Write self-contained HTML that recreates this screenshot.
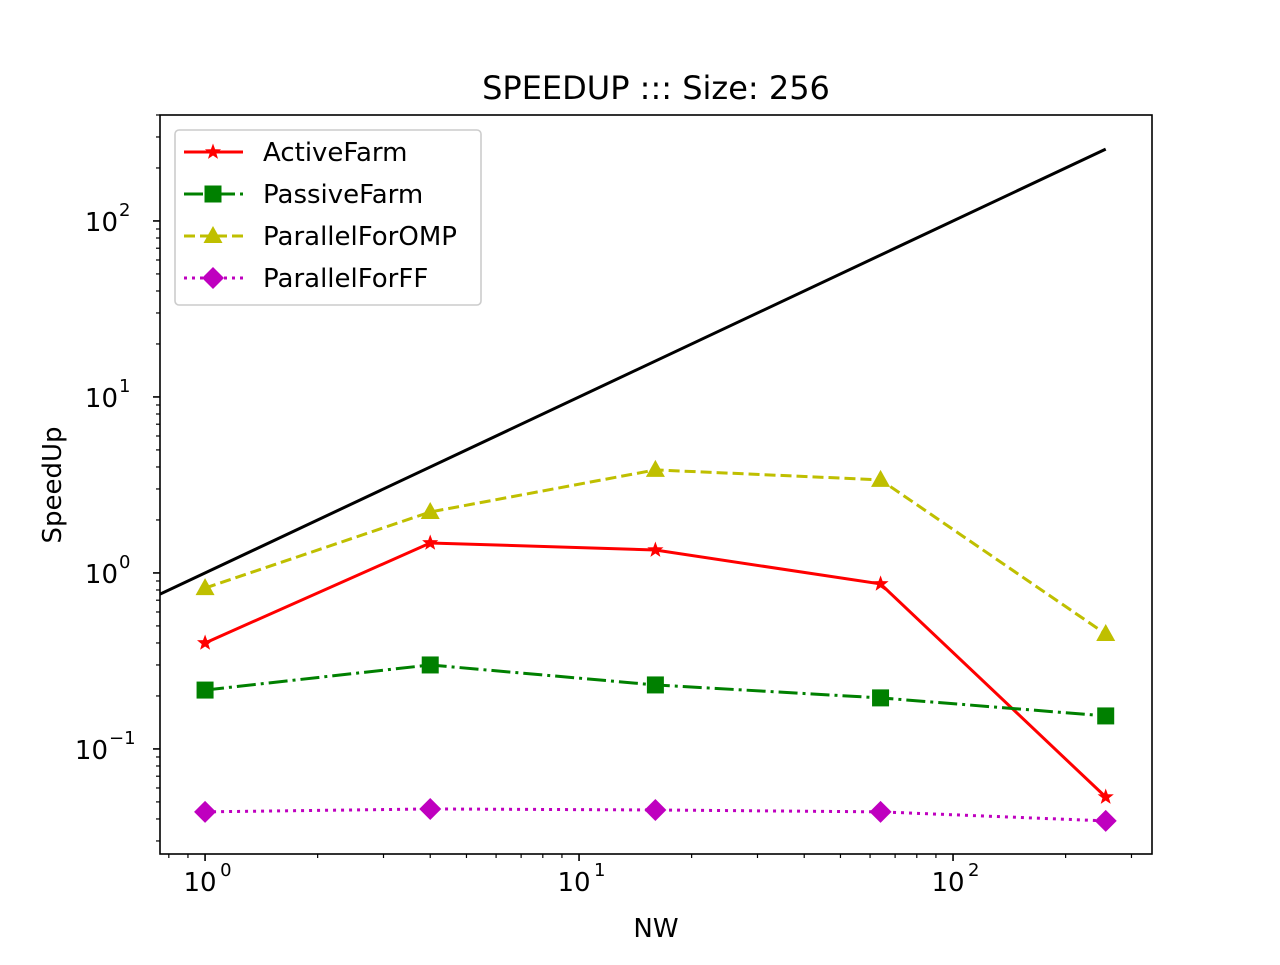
<!DOCTYPE html>
<html><head><meta charset="utf-8"><style>
body{margin:0;background:#fff}
svg text{font-family:"DejaVu Sans","Liberation Sans",sans-serif;fill:#000}
</style></head><body>
<svg id="chart" width="1280" height="960" xmlns="http://www.w3.org/2000/svg">
<rect width="1280" height="960" fill="#fff"/>
<g id="plot"></g>
</svg>
<script>
const nw = [1, 4, 16, 64, 256];
const activeFarm = [0.40, 1.48, 1.35, 0.866, 0.0533];
const passiveFarm = [0.216, 0.30, 0.231, 0.195, 0.154];
const parallelForOMP = [0.82, 2.22, 3.85, 3.38, 0.45];
const parallelForFF = [0.0439, 0.0456, 0.0450, 0.0439, 0.039];
const xTickLabels = ['0', '1', '2'];
const yTickLabels = ['-1', '0', '1', '2'];

const L = 160, R = 1152, T = 115, B = 854;
const xmin = -0.1205, xmax = 2.532, ymin = -1.597, ymax = 2.602;
const sx = v => L + (Math.log10(v) - xmin) / (xmax - xmin) * (R - L);
const sy = v => B - (Math.log10(v) - ymin) / (ymax - ymin) * (B - T);
const NS = 'http://www.w3.org/2000/svg';
const g = document.getElementById('plot');
function mk(tag, attrs, parent) {
  const e = document.createElementNS(NS, tag);
  for (const k in attrs) e.setAttribute(k, attrs[k]);
  (parent || g).appendChild(e);
  return e;
}

// title and axis labels
let t = mk('text', {x: 656, y: 99, 'text-anchor': 'middle', 'font-size': 32});
t.textContent = 'SPEEDUP ::: Size: 256';


t = mk('text', {x: 656, y: 937, 'text-anchor': 'middle', 'font-size': 26});
t.textContent = 'NW';


t = mk('text', {x: 61, y: 485, 'text-anchor': 'middle', 'font-size': 26, transform: 'rotate(-90 61 485)'});
t.textContent = 'SpeedUp';



// x ticks
for (let d = -1; d <= 2; d++) for (let m = 1; m < 10; m++) {
  const v = m * Math.pow(10, d), x = sx(v);
  if (x < L - 0.5 || x > R + 0.5) continue;
  mk('line', {x1: x, x2: x, y1: B, y2: B + (m === 1 ? 7 : 4), stroke: '#000', 'stroke-width': m === 1 ? 1.6 : 1.2});
}
xTickLabels.forEach(e => {
  const x = sx(Math.pow(10, +e));
  const tx = mk('text', {x: x - 5, y: 891, 'text-anchor': 'middle', 'font-size': 26});
  tx.textContent = '10';
  
  
  const s = mk('text', {x: x + 15, y: 876, 'font-size': 18});
  s.textContent = e;
});
// y ticks
for (let d = -2; d <= 2; d++) for (let m = 1; m < 10; m++) {
  const v = m * Math.pow(10, d), y = sy(v);
  if (y < T - 0.5 || y > B + 0.5) continue;
  mk('line', {x1: L, x2: L - (m === 1 ? 7 : 4), y1: y, y2: y, stroke: '#000', 'stroke-width': m === 1 ? 1.6 : 1.2});
}
yTickLabels.forEach(e => {
  const y = sy(Math.pow(10, +e));
  const tx = mk('text', {x: e.length > 1 ? 108 : 118, y: y + 10, 'text-anchor': 'end', 'font-size': 26});
  tx.textContent = '10';
  
  
  const s = mk('text', {x: e.length > 1 ? 109 : 119, y: y - 5, 'font-size': 18});
  s.textContent = e.replace('-', '\u2212');
});

// clip
const defs = mk('defs', {});
const cp = mk('clipPath', {id: 'clip'}, defs);
mk('rect', {x: L, y: T, width: R - L, height: B - T}, cp);
const pg = mk('g', {'clip-path': 'url(#clip)'});

// ideal line
const ideal = mk('line', {x1: sx(Math.pow(10, xmin)), y1: sy(Math.pow(10, xmin)), x2: sx(256), y2: sy(256), stroke: '#000', 'stroke-width': 3}, pg);



function marker(type, x, y, c, parent) {
  if (type === 'star') {
    let p = [];
    for (let i = 0; i < 10; i++) {
      const r = i % 2 ? 3.5 : 8.5, a = -Math.PI / 2 + i * Math.PI / 5;
      p.push((x + r * Math.cos(a)).toFixed(1) + ',' + (y + r * Math.sin(a)).toFixed(1));
    }
    return mk('polygon', {points: p.join(' '), fill: c}, parent);
  }
  if (type === 'square') return mk('rect', {x: x - 8.5, y: y - 8.5, width: 17, height: 17, fill: c}, parent);
  if (type === 'tri') return mk('polygon', {points: `${x},${y - 10} ${x - 9.5},${y + 7} ${x + 9.5},${y + 7}`, fill: c}, parent);
  return mk('polygon', {points: `${x},${y - 11} ${x + 11},${y} ${x},${y + 11} ${x - 11},${y}`, fill: c}, parent);
}

const series = [
  {name: 'ActiveFarm', vals: activeFarm, c: '#ff0000', dash: '', m: 'star', id: 'active-farm'},
  {name: 'PassiveFarm', vals: passiveFarm, c: '#008000', dash: '19 5 3 5', m: 'square', id: 'passive-farm'},
  {name: 'ParallelForOMP', vals: parallelForOMP, c: '#bfbf00', dash: '11 5', m: 'tri', id: 'parallel-for-omp'},
  {name: 'ParallelForFF', vals: parallelForFF, c: '#bf00bf', dash: '3 5', m: 'diamond', id: 'parallel-for-ff'}
];
series.forEach(s => {
  const sg = mk('g', {}, pg);
  
  
  mk('polyline', {points: nw.map((x, i) => sx(x) + ',' + sy(s.vals[i])).join(' '), fill: 'none', stroke: s.c, 'stroke-width': 3, 'stroke-dasharray': s.dash}, sg);
  nw.forEach((x, i) => {
    const mm = marker(s.m, sx(x), sy(s.vals[i]), s.c, sg);
    
    
  });
});

// frame
mk('rect', {x: L, y: T, width: R - L, height: B - T, fill: 'none', stroke: '#000', 'stroke-width': 1.6});

// legend
const lg = mk('g', {});


mk('rect', {x: 175, y: 130, width: 306, height: 175, rx: 4, fill: '#fff', 'fill-opacity': 0.8, stroke: '#ccc', 'stroke-width': 1.6}, lg);
series.forEach((s, i) => {
  const y = 152 + i * 42;
  const eg = mk('g', {}, lg);
  
  
  mk('line', {x1: 184, x2: 243, y1: y, y2: y, stroke: s.c, 'stroke-width': 3, 'stroke-dasharray': s.dash}, eg);
  marker(s.m, 213, y, s.c, eg);
  const tx = mk('text', {x: 263, y: y + 9, 'font-size': 26}, eg);
  tx.textContent = s.name;
});
</script>
</body></html>
